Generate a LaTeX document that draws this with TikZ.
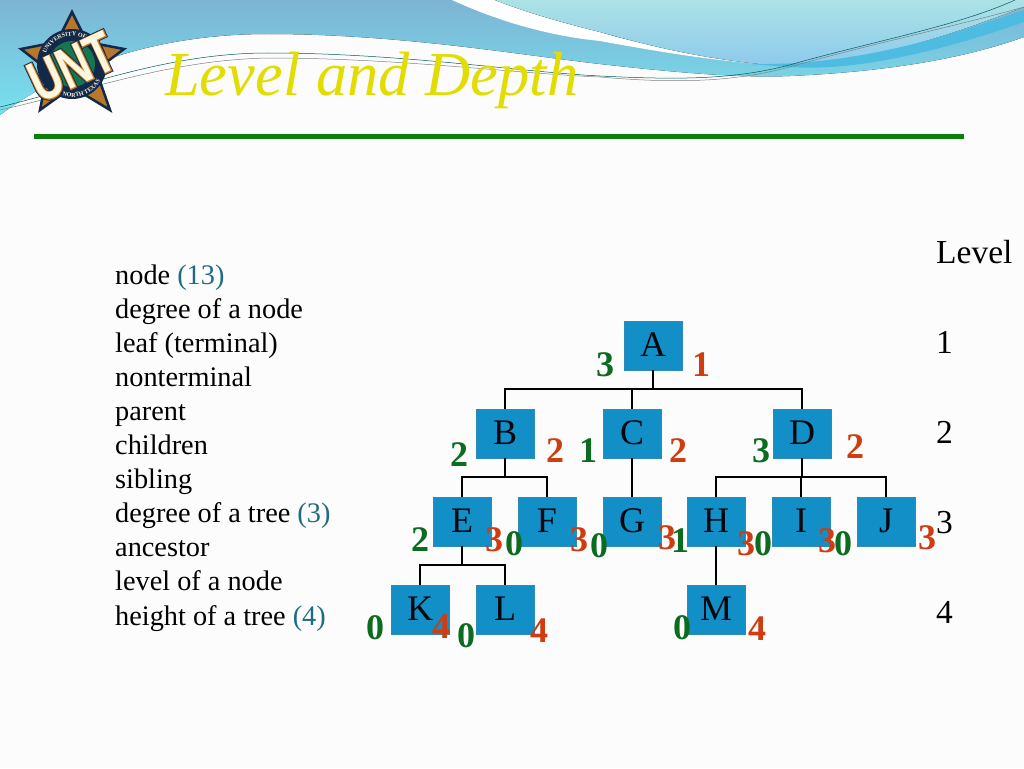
\documentclass[tikz,border=0pt]{standalone}
\usepackage{fontspec}
\usepackage{tikz}
\usetikzlibrary{decorations.text}
\setmainfont{Liberation Serif}
\newfontfamily\untfont[FakeStretch=0.74]{Liberation Sans}
\newfontfamily\untfontm[FakeStretch=0.74,FakeBold=3]{Liberation Sans}
\newfontfamily\untfontl[FakeStretch=0.74,FakeBold=6]{Liberation Sans}
\definecolor{hdrtop}{HTML}{7DB4D4}
\definecolor{hdrbot}{HTML}{76E2EE}
\definecolor{swtop}{HTML}{ACE2E6}
\definecolor{swbot}{HTML}{8CC9EC}
\definecolor{swband}{HTML}{4DBCE0}
\definecolor{titlecol}{HTML}{E2DC00}
\definecolor{rulecol}{HTML}{0B7F0B}
\definecolor{boxcol}{HTML}{128FC6}
\definecolor{deggreen}{HTML}{0B6B1E}
\definecolor{lvlred}{HTML}{CE3C10}
\definecolor{tealtxt}{HTML}{1F6A85}
\definecolor{navy}{HTML}{12294A}
\definecolor{tan}{HTML}{B8772A}
\definecolor{ntgreen}{HTML}{17764F}
\definecolor{cream}{HTML}{FFF6E0}
\tikzset{
  box/.style={draw=boxcol!75!gray,line width=0.8pt,fill=boxcol,minimum width=58pt,minimum height=49pt,inner sep=0pt,text height=24pt,text depth=2pt,font=\fontsize{36}{36}\selectfont,text=black!85!navy},
  edge/.style={draw=black,line width=1.9pt},
  deg/.style={font=\fontsize{36}{36}\selectfont\bfseries,text=deggreen,inner sep=0pt},
  lvl/.style={font=\fontsize{36}{36}\selectfont\bfseries,text=lvlred,inner sep=0pt},
  item/.style={anchor=base west,inner sep=0pt,font=\fontsize{28.3}{28.3}\selectfont},
  levelnum/.style={anchor=base west,inner sep=0pt,font=\fontsize{33.5}{33.5}\selectfont}
}

\begin{document}
\begin{tikzpicture}[x=1pt,y=-1pt]
    \useasboundingbox (0,0) rectangle (1024,768);
    \fill[black!1] (0,0) rectangle (1024,768);

    % Header waves
    \fill[top color=hdrtop,middle color=hdrbot,bottom color=hdrbot] (0,0) -- (1024,0) -- (1024,37)
        .. controls (960,60) and (880,72) .. (790,76)
        .. controls (740,78) and (680,73) .. (600,64)
        .. controls (520,55) and (400,34) .. (268,34)
        .. controls (150,34) and (60,70) .. (0,115) -- cycle;
    \fill[white] (452,0) .. controls (500,22) and (550,36) .. (600,41)
        .. controls (660,52) and (710,60) .. (760,64)
        -- (700,52) .. controls (660,46) and (630,42) .. (600,32)
        .. controls (560,22) and (525,12) .. (495,0) -- cycle;
    \fill[top color=swtop,bottom color=swbot] (495,0) .. controls (525,12) and (560,22) .. (600,32)
        .. controls (650,46) and (700,58) .. (760,64)
        .. controls (860,68) and (950,35) .. (1024,7) -- (1024,0) -- cycle;
    \fill[swband] (750,64) .. controls (860,66) and (950,35) .. (1024,10) -- (1024,22)
        .. controls (950,48) and (860,72) .. (790,67) -- cycle;
    \draw[teal!70!black,line width=0.5pt] (0,107) .. controls (90,85) and (170,53) .. (268,53)
        .. controls (400,53) and (520,72) .. (600,76)
        .. controls (680,80) and (740,80) .. (800,62) .. controls (880,40) and (960,25) .. (1015,0);
    \draw[gray,line width=0.5pt] (0,110) .. controls (90,90) and (170,60) .. (268,58)
        .. controls (400,58) and (520,74) .. (600,77)
        .. controls (680,84) and (740,82) .. (800,64) .. controls (880,42) and (960,25) .. (1024,7);

    % Logo
    \filldraw[fill=tan,draw=navy,line width=2.5pt,line join=miter] (72,12) -- (87,42) -- (124,49) -- (96,70) -- (110,110) -- (72,87) -- (40,110) -- (48,70) -- (21,49) -- (57,42) -- cycle;
    \fill[navy] (72,64) circle (35);
    \fill[ntgreen] (72,64) circle (23);
    \path[decorate,decoration={text along path,text align=center,
        text={|\fontsize{6}{6}\selectfont\bfseries\color{cream}|UNIVERSITY OF}}]
        (72,64) ++(175:28) arc[start angle=175,end angle=325,radius=28];
    \path[decorate,decoration={text along path,text align=center,
        text={|\fontsize{6}{6}\selectfont\bfseries\color{cream}|NORTH TEXAS}}]
        (72,64) ++(150:33) arc[start angle=150,end angle=-12,radius=33];
    \node[rotate=25,inner sep=0pt,text=navy,font=\untfontl\fontsize{58}{58}\selectfont\bfseries] (untout) at (72,67) {UNT};
    \node[rotate=25,inner sep=0pt,text=tan!70!orange,font=\untfontm\fontsize{58}{58}\selectfont\bfseries] (untmid) at (72,67) {UNT};
    \node[rotate=25,inner sep=0pt,text=cream,font=\untfont\fontsize{58}{58}\selectfont\bfseries] (unttop) at (72,67) {UNT};

    % Title and rule
    \node[anchor=base west,inner sep=0pt,text=titlecol,font=\fontsize{62.5}{62.5}\selectfont\itshape] (title) at (165,95.5) {Level and Depth};
    \coordinate (ruleL) at (34,136.5);
    \coordinate (ruleR) at (964,136.5);
    \draw[rulecol,line width=5.5pt] (ruleL) -- (ruleR);

    % Term list
    \node[item] (t1) at (115,284) {node \textcolor{tealtxt}{(13)}};
    \node[item] (t2) at (115,318.1) {degree of a node};
    \node[item] (t3) at (115,352.2) {leaf (terminal)};
    \node[item] (t4) at (115,386.3) {nonterminal};
    \node[item] (t5) at (115,420.4) {parent};
    \node[item] (t6) at (115,454.5) {children};
    \node[item] (t7) at (115,488.6) {sibling};
    \node[item] (t8) at (115,522.7) {degree of a tree \textcolor{tealtxt}{(3)}};
    \node[item] (t9) at (115,556.8) {ancestor};
    \node[item] (t10) at (115,590.9) {level of a node};
    \node[item] (t11) at (115,625) {height of a tree \textcolor{tealtxt}{(4)}};

    % Level column
    \node[levelnum] (lev) at (936,263) {Level};
    \node[levelnum] (lev1) at (936,353) {1};
    \node[levelnum] (lev2) at (936,443) {2};
    \node[levelnum] (lev3) at (936,533) {3};
    \node[levelnum] (lev4) at (936,623) {4};

    % Tree boxes
    \node[box] (A) at (653,345.5) {A};
    \node[box] (B) at (505,433.5) {B};
    \node[box] (C) at (632,433.5) {C};
    \node[box] (D) at (802,433.5) {D};
    \node[box] (E) at (462,521.5) {E};
    \node[box] (F) at (547,521.5) {F};
    \node[box] (G) at (632,521.5) {G};
    \node[box] (H) at (716,521.5) {H};
    \node[box] (I) at (801,521.5) {I};
    \node[box] (J) at (886,521.5) {J};
    \node[box] (K) at (420,609.5) {K};
    \node[box] (L) at (505,609.5) {L};
    \node[box] (M) at (716,609.5) {M};

    % Tree edges
    \coordinate (busA) at ([yshift=-19pt]A.south);
    \coordinate (busB) at ([yshift=-19pt]B.south);
    \coordinate (busD) at ([yshift=-19pt]D.south);
    \coordinate (busE) at ([yshift=-19pt]E.south);
    \draw[edge] (A.south) -- (busA);
    \draw[edge] (B.north) |- (busA) -| (D.north);
    \draw[edge] (C.north) -- (C.north |- busA);
    \draw[edge] (B.south) -- (busB);
    \draw[edge] (E.north) |- (busB) -| (F.north);
    \draw[edge] (C.south) -- (G.north);
    \draw[edge] (D.south) -- (busD);
    \draw[edge] (H.north) |- (busD) -| (J.north);
    \draw[edge] (I.north) -- (I.north |- busD);
    \draw[edge] (E.south) -- (busE);
    \draw[edge] (K.north) |- (busE) -| (L.north);
    \draw[edge] (H.south) -- (M.north);

    % Degrees
    \node[deg] (dA) at (605,365) {3};
    \node[deg] (dB) at (459,455) {2};
    \node[deg] (dC) at (588,451) {1};
    \node[deg] (dD) at (761,451) {3};
    \node[deg] (dE) at (420,540) {2};
    \node[deg] (dF) at (514,544) {0};
    \node[deg] (dG) at (599,546) {0};
    \node[deg] (dH) at (680,541) {1};
    \node[deg] (dI) at (763,544) {0};
    \node[deg] (dJ) at (843,544) {0};
    \node[deg] (dK) at (375,628) {0};
    \node[deg] (dL) at (466,636) {0};
    \node[deg] (dM) at (682,628) {0};

    % Levels
    \node[lvl] (lA) at (701,365) {1};
    \node[lvl] (lB) at (555,451) {2};
    \node[lvl] (lC) at (678,451) {2};
    \node[lvl] (lD) at (855,447) {2};
    \node[lvl] (lE) at (494,540) {3};
    \node[lvl] (lF) at (579,540) {3};
    \node[lvl] (lG) at (667,538) {3};
    \node[lvl] (lH) at (746,544) {3};
    \node[lvl] (lI) at (827,541) {3};
    \node[lvl] (lJ) at (927,538) {3};
    \node[lvl] (lK) at (441,627) {4};
    \node[lvl] (lL) at (539,631) {4};
    \node[lvl] (lM) at (757,629) {4};
\end{tikzpicture}
\end{document}
